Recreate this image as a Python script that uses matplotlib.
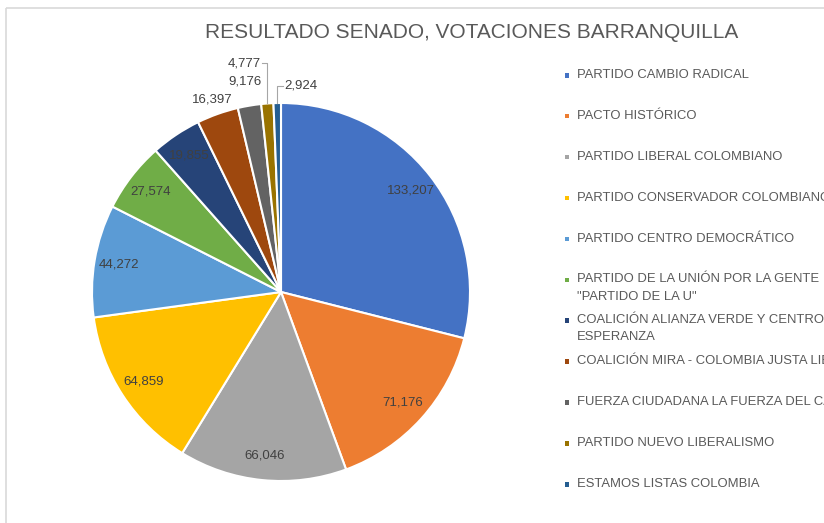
import matplotlib
matplotlib.use("Agg")
import matplotlib.pyplot as plt
from matplotlib.patches import Rectangle
import numpy as np

plt.rcParams['font.family'] = ['Liberation Sans', 'DejaVu Sans']

# datos
partidos = [
    'PARTIDO CAMBIO RADICAL',
    'PACTO HISTÓRICO',
    'PARTIDO LIBERAL COLOMBIANO',
    'PARTIDO CONSERVADOR COLOMBIANO',
    'PARTIDO CENTRO DEMOCRÁTICO',
    'PARTIDO DE LA UNIÓN POR LA GENTE\n"PARTIDO DE LA U"',
    'COALICIÓN ALIANZA VERDE Y CENTRO\nESPERANZA',
    'COALICIÓN MIRA - COLOMBIA JUSTA LIBRES',
    'FUERZA CIUDADANA LA FUERZA DEL CAMBIO',
    'PARTIDO NUEVO LIBERALISMO',
    'ESTAMOS LISTAS COLOMBIA',
]
votos = [133207, 71176, 66046, 64859, 44272, 27574, 19855, 16397, 9176, 4777, 2924]
colores = ['#4472C4', '#ED7D31', '#A5A5A5', '#FFC000', '#5B9BD5', '#70AD47',
           '#264478', '#9E480E', '#636363', '#997300', '#255E91']

W, H = 824, 523
fig = plt.figure(figsize=(W / 100, H / 100), dpi=100)

# marco del grafico
over = fig.add_axes([0, 0, 1, 1])
over.set_xlim(0, W)
over.set_ylim(H, 0)
over.axis('off')
over.add_patch(Rectangle((6, 8), W, H, fill=False, edgecolor='#d9d9d9', lw=1.2))

over.text(472, 32, 'RESULTADO SENADO, VOTACIONES BARRANQUILLA', ha='center', va='center',
          fontsize=15, color='#595959')

# pastel
cx, cy, r = 281, 292, 189
ax = fig.add_axes([(cx - r) / W, (H - cy - r) / H, 2 * r / W, 2 * r / H])
wedges, _ = ax.pie(votos, colors=colores, startangle=90, counterclock=False, radius=1,
                   wedgeprops=dict(edgecolor='white', linewidth=1.5))
ax.set_xlim(-1, 1)
ax.set_ylim(-1, 1)
ax.axis('off')

label_r = [0.87] * 7 + [1.08, 1.13]
lbl_color = '#404040'
for i, w in enumerate(wedges):
    ang = np.deg2rad((w.theta1 + w.theta2) / 2)
    txt = f'{votos[i]:,}'
    if i < len(label_r):
        rr = label_r[i]
        ax.text(rr * np.cos(ang), rr * np.sin(ang), txt, ha='center', va='center',
                fontsize=9.5, color=lbl_color, clip_on=False)
    else:
        xw, yw = np.cos(ang), np.sin(ang)
        if i == 9:
            yt, dx, ha = 1.21, -0.035, 'right'
        else:
            yt, dx, ha = 1.09, 0.035, 'left'
        ax.plot([xw, xw, xw + dx * 0.8], [yw, yt, yt], color='#a6a6a6', lw=0.8,
                clip_on=False)
        ax.text(xw + dx, yt, txt, ha=ha, va='center', fontsize=9.5, color=lbl_color,
                clip_on=False)

# leyenda
y0, dy = 75, 40.9
for i, (p, c) in enumerate(zip(partidos, colores)):
    y = y0 + i * dy
    over.add_patch(Rectangle((565, y - 2), 4.5, 4.5, color=c, lw=0))
    for k, linea in enumerate(p.split('\n')):
        over.text(577, y + k * 17, linea, ha='left', va='center', fontsize=9.4,
                  color='#595959')

fig.savefig('out.png', dpi=100)
